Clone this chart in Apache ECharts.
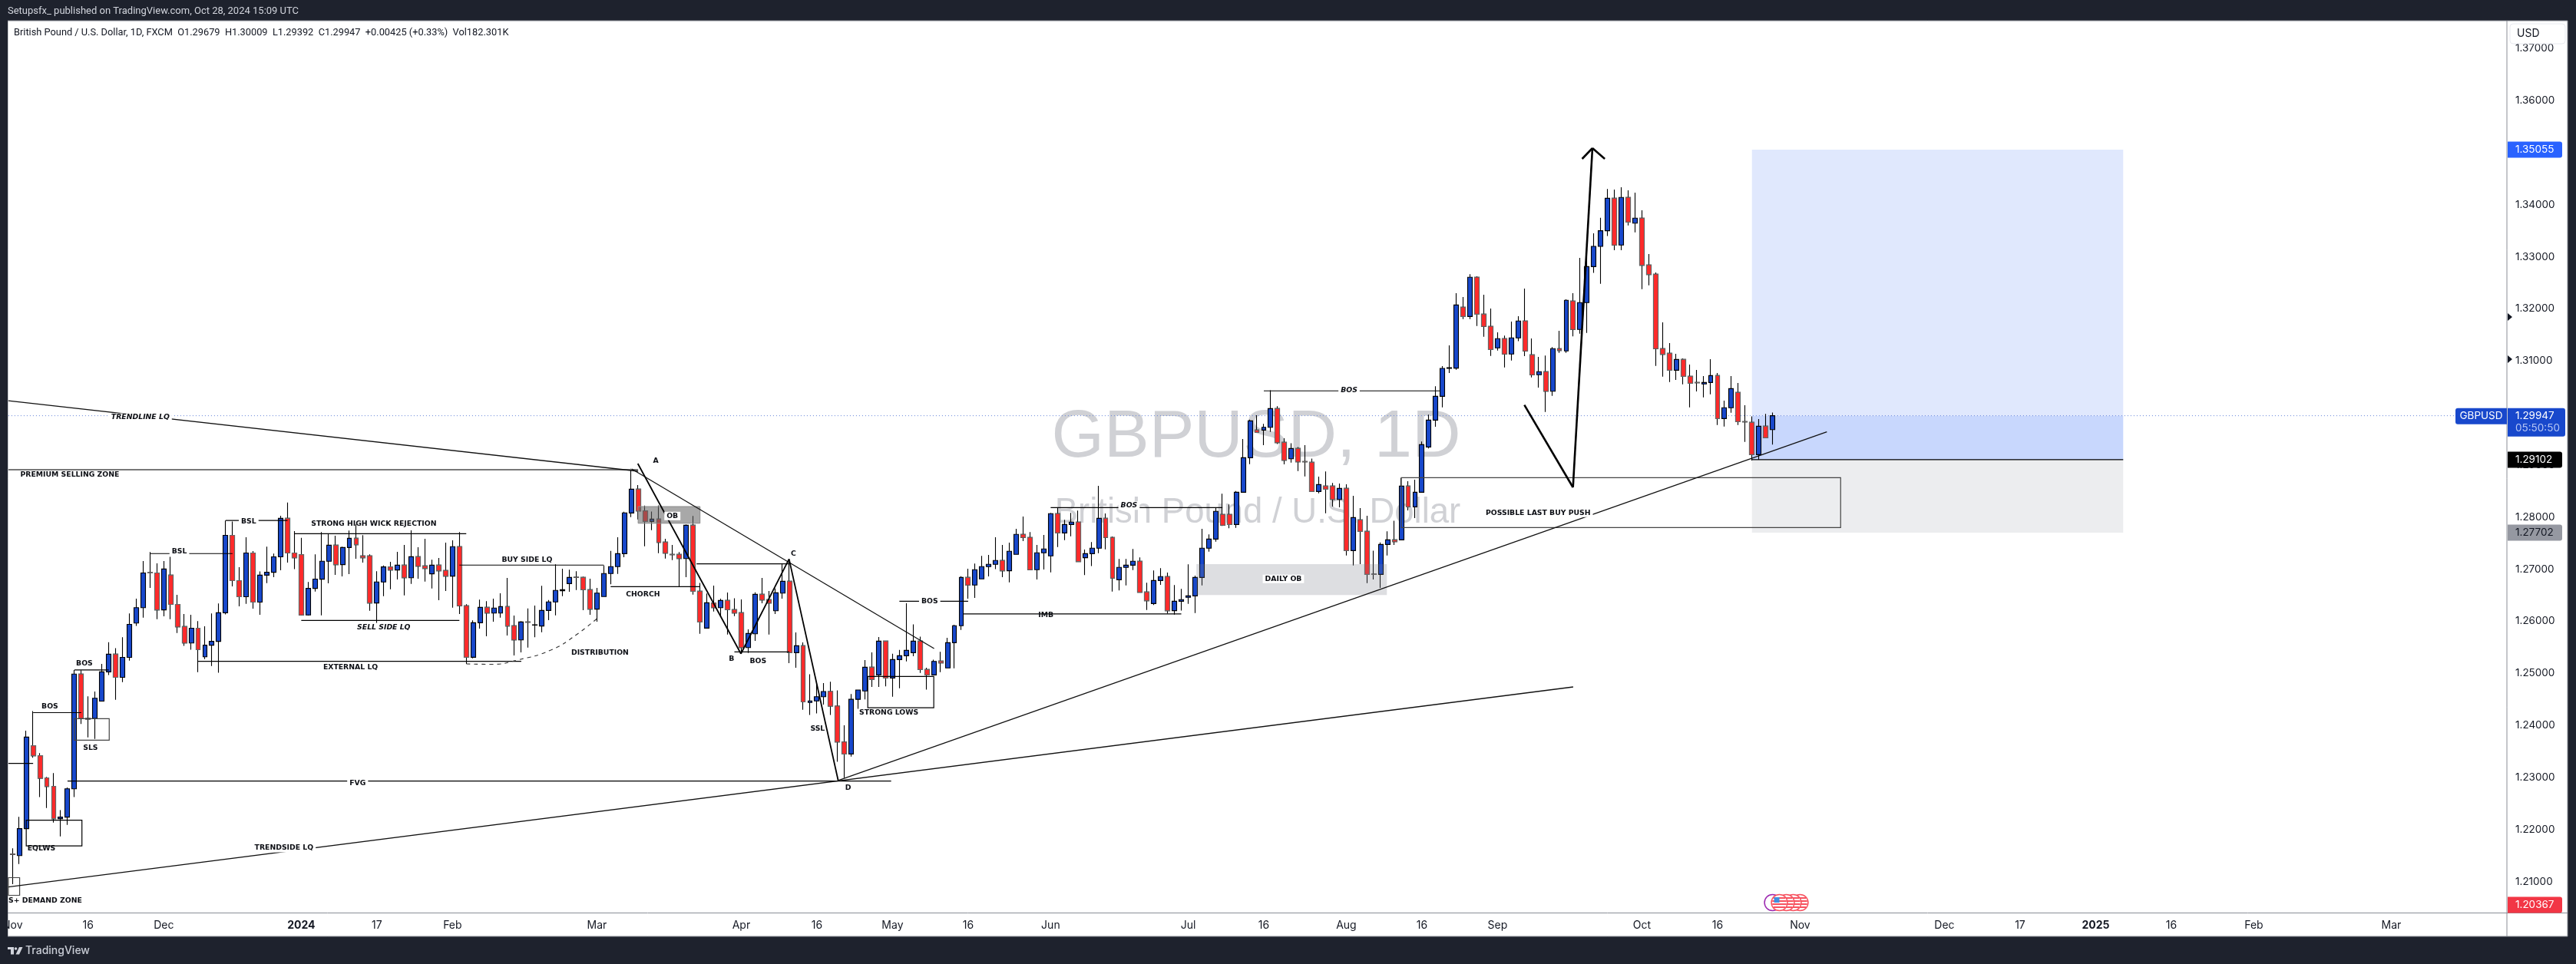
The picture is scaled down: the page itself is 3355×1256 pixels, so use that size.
<!DOCTYPE html>
<html><head><meta charset="utf-8"><style>html,body{margin:0;padding:0;background:#1e222d}#c{width:3355px;height:1256px}</style>
<script src="https://cdn.jsdelivr.net/npm/echarts@6/dist/echarts.min.js"></script></head>
<body><div id="c"></div>
<script>
const opens=[
1.21530,1.21498,1.22016,1.23608,1.23417,1.22991,1.22830,1.22208,1.22238,1.22781,
1.24984,1.24132,1.24132,1.24466,1.25027,1.25367,1.24922,1.25305,1.25965,1.26261,
1.26935,1.26928,1.26218,1.26884,1.26323,1.25897,1.25582,1.25866,1.25317,1.25539,
1.25613,1.26162,1.27649,1.26779,1.26471,1.27310,1.26366,1.26884,1.26940,1.27236,
1.27976,1.27310,1.27279,1.26119,1.26631,1.26807,1.27151,1.27460,1.27087,1.27416,
1.27593,1.27254,1.27254,1.26350,1.26753,1.27043,1.26984,1.27077,1.26836,1.27239,
1.27062,1.26910,1.27077,1.26974,1.26866,1.27431,1.26296,1.25308,1.25971,1.26266,
1.26158,1.26158,1.26281,1.25913,1.25642,1.25986,1.25927,1.25908,1.26207,1.26370,
1.26586,1.26723,1.26845,1.26841,1.26605,1.26232,1.26473,1.26915,1.27048,1.27298,
1.28079,1.28536,1.28118,1.27917,1.27961,1.27519,1.27283,1.27283,1.27204,1.27843,
1.26575,1.25868,1.26349,1.26261,1.26398,1.26221,1.26162,1.25494,1.25759,1.26516,
1.26413,1.26202,1.26541,1.26767,1.25396,1.25528,1.24440,1.24470,1.24550,1.24650,
1.24370,1.23680,1.23450,1.24500,1.24660,1.25116,1.24968,1.25617,1.24909,1.25263,
1.25337,1.25396,1.25617,1.25071,1.24969,1.25234,1.25102,1.25588,1.25913,1.26841,
1.26694,1.26812,1.27048,1.27092,1.27166,1.26969,1.27284,1.27667,1.27608,1.26989,
1.27313,1.27254,1.28065,1.27696,1.27858,1.27903,1.27220,1.27298,1.27402,1.27976,
1.27608,1.26797,1.27033,1.27077,1.27151,1.26561,1.26340,1.26782,1.26856,1.26203,
1.26384,1.26458,1.26487,1.26841,1.27402,1.27578,1.28050,1.28050,1.27858,1.28477,
1.29140,1.29671,1.29671,1.29725,1.30084,1.29435,1.29120,1.29317,1.29066,1.29052,
1.28491,1.28595,1.28595,1.28339,1.28550,1.27356,1.27946,1.27725,1.26904,1.26899,
1.27474,1.27563,1.27563,1.28595,1.28197,1.28477,1.29346,1.29862,1.30319,1.30856,
1.30861,1.32030,1.31853,1.32605,1.31897,1.31662,1.31249,1.31426,1.31131,1.31441,
1.31765,1.31116,1.30733,1.30792,1.30418,1.31234,1.31190,1.32148,1.31603,1.32119,
1.32811,1.33200,1.33500,1.34123,1.33224,1.34138,1.33646,1.33740,1.32841,1.32664,
1.31234,1.31145,1.30821,1.31027,1.30703,1.30585,1.30556,1.30585,1.30718,1.29892,
1.30099,1.30393,1.29833,1.29818,1.29199,1.29745,1.29679];
const closes=[
1.21523,1.22016,1.23775,1.23417,1.22985,1.22825,1.22208,1.22238,1.22781,1.24984,
1.24132,1.24120,1.24521,1.25027,1.25367,1.24922,1.25305,1.25940,1.26261,1.26928,
1.26928,1.26218,1.27002,1.26323,1.25891,1.25582,1.25866,1.25453,1.25539,1.25613,
1.26162,1.27649,1.26779,1.26471,1.27310,1.26366,1.26884,1.26940,1.27236,1.27976,
1.27310,1.27218,1.26119,1.26631,1.26810,1.27151,1.27460,1.27087,1.27416,1.27593,
1.27470,1.27220,1.26350,1.26753,1.27043,1.26984,1.27077,1.26836,1.27239,1.27057,
1.27013,1.27077,1.26969,1.26866,1.27431,1.26296,1.25308,1.25971,1.26266,1.26158,
1.26252,1.26281,1.25908,1.25642,1.25986,1.25981,1.25932,1.26207,1.26370,1.26591,
1.26605,1.26841,1.26841,1.26605,1.26232,1.26541,1.26915,1.27048,1.27298,1.28080,
1.28536,1.28118,1.27917,1.27961,1.27514,1.27307,1.27278,1.27204,1.27843,1.26575,
1.25985,1.26354,1.26261,1.26398,1.26221,1.26157,1.25494,1.25764,1.26516,1.26408,
1.26349,1.26546,1.26767,1.25396,1.25529,1.24450,1.24470,1.24550,1.24650,1.24370,
1.23680,1.23450,1.24500,1.24680,1.25116,1.24880,1.25617,1.24909,1.25263,1.25337,
1.25440,1.25617,1.25071,1.24968,1.25229,1.25200,1.25588,1.25913,1.26841,1.26694,
1.26989,1.27048,1.27092,1.27166,1.26969,1.27343,1.27667,1.27608,1.26989,1.27313,
1.27387,1.28065,1.27696,1.27858,1.27903,1.27146,1.27298,1.27402,1.27976,1.27608,
1.26827,1.27033,1.27077,1.27151,1.26556,1.26394,1.26782,1.26856,1.26203,1.26384,
1.26414,1.26487,1.26841,1.27402,1.27578,1.28109,1.27844,1.27858,1.28477,1.29140,
1.29848,1.29626,1.29725,1.30084,1.29430,1.29091,1.29317,1.29061,1.29061,1.28491,
1.28624,1.28536,1.28339,1.28550,1.27356,1.27990,1.27725,1.26899,1.26899,1.27474,
1.27563,1.27528,1.28595,1.28197,1.28477,1.29391,1.29862,1.30319,1.30856,1.30871,
1.32074,1.31853,1.32605,1.31897,1.31662,1.31219,1.31426,1.31131,1.31441,1.31765,
1.31190,1.30733,1.30792,1.30418,1.31234,1.31200,1.32163,1.31603,1.32119,1.32811,
1.33200,1.33500,1.34123,1.33224,1.34138,1.33666,1.33740,1.32836,1.32659,1.31234,
1.31126,1.30821,1.31027,1.30703,1.30570,1.30580,1.30585,1.30718,1.29892,1.30099,
1.30467,1.29833,1.29828,1.29199,1.29745,1.29524,1.29947];
const lows=[
1.20950,1.21338,1.22016,1.23380,1.22621,1.22411,1.22133,1.21868,1.22090,1.22621,
1.24028,1.23768,1.23738,1.24466,1.24965,1.24490,1.24830,1.25243,1.25910,1.26070,
1.26638,1.26039,1.26095,1.26039,1.25774,1.25527,1.25453,1.25021,1.25274,1.25138,
1.25009,1.26131,1.26668,1.26286,1.26335,1.26243,1.26125,1.26730,1.26847,1.26977,
1.27125,1.27002,1.26110,1.26110,1.26570,1.26114,1.26728,1.26890,1.26861,1.26905,
1.27200,1.27126,1.26202,1.25967,1.26483,1.26615,1.26802,1.26497,1.26718,1.26817,
1.26763,1.26630,1.26404,1.26581,1.26261,1.26139,1.25180,1.25288,1.25858,1.25711,
1.25991,1.26070,1.25726,1.25342,1.25401,1.25495,1.25691,1.25790,1.26021,1.26114,
1.26483,1.26566,1.26600,1.26212,1.26124,1.25991,1.26473,1.26709,1.26910,1.27230,
1.28000,1.27956,1.27440,1.27750,1.27307,1.27204,1.27175,1.26663,1.26845,1.26511,
1.25759,1.25868,1.26187,1.26089,1.25745,1.26098,1.25401,1.25391,1.25622,1.26344,
1.25745,1.26138,1.26433,1.25194,1.25106,1.24300,1.24200,1.24230,1.24400,1.24200,
1.23300,1.22990,1.23400,1.24200,1.24500,1.24737,1.24737,1.24750,1.24550,1.24713,
1.25229,1.25327,1.25008,1.24688,1.24960,1.25023,1.25102,1.25097,1.25834,1.26433,
1.26448,1.26812,1.26861,1.26999,1.26846,1.26748,1.27284,1.27539,1.26989,1.26802,
1.26994,1.26940,1.27426,1.27559,1.27632,1.27146,1.26886,1.27058,1.27308,1.27382,
1.26571,1.26591,1.26689,1.26984,1.26556,1.26217,1.26311,1.26699,1.26148,1.26129,
1.26203,1.26335,1.26158,1.26689,1.27338,1.27529,1.27829,1.27785,1.27794,1.28477,
1.29017,1.29617,1.29381,1.29636,1.29405,1.29012,1.29047,1.28884,1.28781,1.28491,
1.28457,1.28074,1.28201,1.28187,1.27263,1.27071,1.27096,1.26732,1.26801,1.26639,
1.27263,1.27464,1.27563,1.28128,1.27980,1.28477,1.29317,1.29735,1.30108,1.30767,
1.30831,1.31804,1.31804,1.31671,1.31465,1.31096,1.31200,1.30875,1.31008,1.31377,
1.31091,1.30684,1.30487,1.30020,1.30330,1.31155,1.31155,1.31470,1.31524,1.31539,
1.32689,1.32482,1.33400,1.33126,1.33126,1.33602,1.33470,1.32379,1.32452,1.30905,
1.30698,1.30595,1.30634,1.30551,1.30108,1.30413,1.30300,1.30359,1.29769,1.29740,
1.30005,1.29769,1.29445,1.29086,1.29101,1.29524,1.29392];
const highs=[
1.21640,1.22245,1.23898,1.24274,1.23466,1.23009,1.23083,1.22374,1.22806,1.25064,
1.25060,1.24558,1.24651,1.25181,1.25595,1.25484,1.25694,1.26150,1.26434,1.27156,
1.27328,1.27113,1.27156,1.27236,1.26508,1.26138,1.26125,1.26002,1.25903,1.26150,
1.26341,1.27933,1.27915,1.27039,1.27612,1.27347,1.26958,1.27433,1.27298,1.28026,
1.28279,1.27730,1.27600,1.26755,1.27285,1.27711,1.27677,1.27642,1.27431,1.27741,
1.27858,1.27652,1.27284,1.26959,1.27072,1.27141,1.27333,1.27465,1.27745,1.27421,
1.27583,1.27180,1.27215,1.27510,1.27554,1.27711,1.26325,1.26016,1.26414,1.26384,
1.26433,1.26537,1.26831,1.26109,1.26001,1.26247,1.26301,1.26679,1.26409,1.27092,
1.27008,1.26989,1.26959,1.26856,1.26817,1.26640,1.27072,1.27352,1.27613,1.28104,
1.28929,1.28614,1.28221,1.28108,1.28226,1.27582,1.27465,1.27327,1.27858,1.28020,
1.26737,1.26531,1.26683,1.26433,1.26551,1.26442,1.26418,1.25843,1.26555,1.26831,
1.26580,1.26629,1.27106,1.27145,1.25784,1.25592,1.24983,1.24800,1.24811,1.24836,
1.24673,1.24000,1.24600,1.24688,1.25253,1.25401,1.25696,1.25627,1.25376,1.25450,
1.26344,1.25941,1.25705,1.25106,1.25263,1.25411,1.25682,1.25932,1.26866,1.27008,
1.27107,1.27254,1.27274,1.27613,1.27465,1.27510,1.27775,1.28011,1.27711,1.27465,
1.27657,1.28080,1.28183,1.27947,1.28080,1.28124,1.27377,1.27519,1.28601,1.28070,
1.27628,1.27195,1.27195,1.27387,1.27225,1.26738,1.26974,1.27018,1.26935,1.26694,
1.26620,1.27092,1.26876,1.27775,1.27667,1.28183,1.28448,1.28242,1.28500,1.29499,
1.29872,1.29956,1.29789,1.30437,1.30128,1.29513,1.29420,1.29346,1.29381,1.29125,
1.28776,1.28875,1.28654,1.28644,1.28629,1.28408,1.28172,1.28025,1.27356,1.27513,
1.27725,1.27931,1.28752,1.28688,1.28717,1.29450,1.29966,1.30511,1.30900,1.31298,
1.32300,1.32227,1.32664,1.32625,1.32271,1.32006,1.31549,1.31485,1.31755,1.31858,
1.32389,1.31431,1.31077,1.31101,1.31264,1.31578,1.32182,1.32300,1.32979,1.33000,
1.33450,1.33750,1.34300,1.34290,1.34334,1.34275,1.34231,1.33892,1.33052,1.32698,
1.31740,1.31342,1.31135,1.31047,1.30929,1.30826,1.30708,1.31032,1.30767,1.30236,
1.30708,1.30575,1.30147,1.29936,1.29882,1.29981,1.30009];

const tickIndex=[0,11,22,42,53,64,85,106,117,128,139,151,171,182,194,205,216,237,248,260,281,292,303,314,326,346];
const tickText=['Nov','16','Dec','2024','17','Feb','Mar','Apr','16','May','16','Jun','Jul','16','Aug','16','Sep','Oct','16','Nov','Dec','17','2025','16','Feb','Mar'];
const priceTicks=[1.21,1.22,1.23,1.24,1.25,1.26,1.27,1.28,1.29,1.30,1.31,1.32,1.33,1.34,1.35,1.36,1.37];

// drawn annotations: [fromIndex, fromPrice, toIndex, toPrice]
const thinLines=[
[3,1.24244,10,1.24244],[9,1.25065,14,1.25065],[-0.6,1.2327,3,1.2327],[8,1.22931,127.8,1.22931],
[20,1.27299,32,1.27299],[31,1.27934,40,1.27934],[27,1.2523,74,1.2523],[41,1.27682,66,1.27682],
[42,1.26016,65,1.26016],[65,1.27078,86,1.27078],[87,1.26664,100,1.26664],[99.5,1.27101,113,1.27101],
[105,1.25412,113,1.25412],[129,1.26385,139,1.26385],[138.3,1.26139,170,1.26139],[151,1.28183,176,1.28183],
[182,1.30424,207.6,1.30424],[253,1.29102,307,1.29102]];
const trendLines=[
[-0.6,1.30236,91,1.2888],[90.06,1.28925,134.05,1.25475],[120.1,1.2294,263.9,1.29636],[-0.6,1.20897,227,1.24738]];
const greyLines=[[-0.6,1.2891,91,1.2891]];
const abcdLines=[
[90.95,1.29028,105.95,1.25376],[105.95,1.25376,112.95,1.27195],[112.95,1.27195,120.1,1.2294]];
const pathLines=[
[219.9,1.30153,226.97,1.28571],[226.97,1.28571,229.8,1.35086],[228.3,1.3488,229.8,1.35086],[229.8,1.35086,231.6,1.3488]];
const lastPriceLine=[[-0.6,1.29947,362.8,1.29947]];
const distributionPath=[[66.02,1.2518],[69.74,1.25173],[73.42,1.25254],[78.3,1.25446],[82.02,1.25741],[85.37,1.26094]];
// rectangles: [leftIndex, topPrice, rightIndex, bottomPrice]
const blackBoxes=[[2,1.2218,10.1,1.21684],[124.4,1.2494,134,1.24339]];
const greyBoxes=[[9,1.24128,14.07,1.23715],[-0.6,1.21075,1.04,1.20736],[202,1.28758,265.9,1.278]];
const orderBlockDark=[[91,1.28202,100,1.27881]];
const orderBlockLight=[[172.2,1.27097,199.9,1.26503]];
const targetZone=[[253,1.35055,307,1.29947]];
const openProfitZone=[[253,1.29947,307,1.29102]];
const stopZone=[[253,1.29102,307,1.27702]];
// text annotations: [text, index, price]
const plainLabels=[
['S+ DEMAND ZONE',4.76,1.20637],['EQLWS',4.2,1.21628],['SLS',11.35,1.23559],['BOS',5.43,1.24355],['BOS',10.46,1.25189],
['STRONG HIGH WICK REJECTION',52.55,1.27874],['EXTERNAL LQ',49.17,1.25117],['BUY SIDE LQ',74.84,1.27181],
['DISTRIBUTION',85.45,1.25391],['CHORCH',91.7,1.26517],['A',93.56,1.29079],['B',104.6,1.25269],['C',113.6,1.27293],
['D',121.55,1.22792],['BOS',108.45,1.25229],['SSL',117.1,1.23928],['IMB',150.3,1.26113]];
const boxedLabels=[
['PREMIUM SELLING ZONE',8.34,1.28815],['TRENDSIDE LQ',39.49,1.21643],['BSL',24.27,1.27333],['BSL',34.35,1.27907],
['OB',95.98,1.28021],['STRONG LOWS',127.46,1.24237],['FVG',50.2,1.22881],['BOS',133.4,1.26385],
['DAILY OB',184.85,1.26812],['POSSIBLE LAST BUY PUSH',221.9,1.2808]];
const italicLabels=[['TRENDLINE LQ',18.6,1.29912],['SELL SIDE LQ',54,1.25883],['BOS',162.4,1.28221],['BOS',194.4,1.30433]];
const eventIndex=[256,260,259,258,257];
const eventPrice=[1.20596];
const priceTagValues=[1.35055,1.29102,1.27702,1.20367];
const axisMarkers=[1.31843,1.31032];
const lastPrice=[1.29947];
const countdown='05:50:50';

const SLOT=8.957, SLOTS=364, LEFT=10.85, PANEL_RIGHT=3265;
const categories=new Array(SLOTS).fill('');
tickIndex.forEach((k,i)=>{categories[k]=tickText[i];});
const candles=opens.map((o,i)=>[o,closes[i],lows[i],highs[i]]);
const downBodies=opens.map((o,i)=>o>closes[i]?[o,closes[i],closes[i],o]:'-');

function segSeries(name,rows,color,width,z,dash){
  return {name,type:'custom',xAxisIndex:1,yAxisIndex:0,z,silent:true,data:rows,encode:{x:[0,2],y:[1,3]},
    renderItem:(p,api)=>{const a=api.coord([api.value(0),api.value(1)]),b=api.coord([api.value(2),api.value(3)]);
      return {type:'line',shape:{x1:a[0],y1:a[1],x2:b[0],y2:b[1]},style:{stroke:color,lineWidth:width,lineDash:dash||null}};}};
}
function boxSeries(name,rows,fill,stroke,width,z){
  return {name,type:'custom',xAxisIndex:1,yAxisIndex:0,z,silent:true,data:rows,encode:{x:[0,2],y:[1,3]},
    renderItem:(p,api)=>{const a=api.coord([api.value(0),api.value(1)]),b=api.coord([api.value(2),api.value(3)]);
      return {type:'rect',shape:{x:a[0],y:a[1],width:b[0]-a[0],height:b[1]-a[1]},style:{fill:fill,stroke:stroke,lineWidth:width}};}};
}
function labelSeries(name,rows,font,bg){
  return {name,type:'custom',xAxisIndex:1,yAxisIndex:0,z:6,silent:true,data:rows.map(r=>[r[1],r[2]]),
    renderItem:(p,api)=>{const a=api.coord([api.value(0),api.value(1)]);
      return {type:'text',style:{text:rows[p.dataIndex][0],x:a[0],y:a[1],align:'center',verticalAlign:'middle',font:font,fill:'#0c0e14',
        backgroundColor:bg?'#fff':null,padding:bg?[1,3,1,3]:0}};}};
}
const AXF='Inter';
const tagColors=['#2962ff','#000000','#9598a1','#f23645'];
const tagText=['#ffffff','#ffffff','#131722','#ffffff'];

const option={
  animation:false,backgroundColor:'#1e222d',
  grid:{left:LEFT,top:27,width:SLOT*SLOTS,height:1162.5,containLabel:false},
  xAxis:[
    {type:'category',data:categories,boundaryGap:true,axisLine:{show:false},axisTick:{show:false},splitLine:{show:false},
     axisLabel:{interval:0,margin:9,color:'#131722',fontFamily:AXF,fontSize:14,hideOverlap:false,
       formatter:v=>(v==='2024'||v==='2025')?'{b|'+v+'}':v,rich:{b:{fontWeight:'bold',fontFamily:AXF,fontSize:14,color:'#131722'}}}},
    {type:'value',min:-0.5,max:SLOTS-0.5,show:false}],
  yAxis:{type:'value',position:'right',offset:PANEL_RIGHT-(LEFT+SLOT*SLOTS),min:1.20397,max:1.37533,scale:true,
    axisLine:{show:false},axisTick:{show:false},splitLine:{show:false},
    axisLabel:{customValues:priceTicks,margin:11,color:'#131722',fontFamily:AXF,fontSize:13.5,formatter:v=>v.toFixed(5)}},
  graphic:{elements:[
    {type:'rect',z:-10,shape:{x:10,y:27,width:3334,height:1193},style:{fill:'#fff',stroke:'#8a8e96',lineWidth:1}},
    {type:'text',z:-9,style:{text:'GBPUSD, 1D',x:1636,y:571,align:'center',verticalAlign:'middle',font:'88px "Liberation Sans"',fill:'#d0d1d5'}},
    {type:'text',z:-9,style:{text:'British Pound / U.S. Dollar',x:1638,y:668,align:'center',verticalAlign:'middle',font:'45.5px "Liberation Sans"',fill:'#d0d1d5'}},
    {type:'text',z:8,style:{text:'British Pound / U.S. Dollar, 1D, FXCM  O1.29679  H1.30009  L1.29392  C1.29947  +0.00425 (+0.33%)  Vol182.301K',x:18,y:43,align:'left',verticalAlign:'middle',font:'12.8px Roboto',fill:'#131722'}},
    {type:'text',z:8,style:{text:'Setupsfx_ published on TradingView.com, Oct 28, 2024 15:09 UTC',x:10,y:15,align:'left',verticalAlign:'middle',font:'13px Roboto',fill:'#d1d4dc'}},
    {type:'line',z:1,shape:{x1:10,y1:1189.5,x2:3344,y2:1189.5},style:{stroke:'#8a8e96',lineWidth:1}},
    {type:'line',z:1,shape:{x1:3265,y1:27,x2:3265,y2:1220},style:{stroke:'#8a8e96',lineWidth:1}},
    {type:'rect',z:50,shape:{x:0,y:0,width:10,height:1256},style:{fill:'#1e222d'}},
    {type:'rect',z:50,shape:{x:3269,y:31,width:72,height:26,r:4},style:{fill:'#fff',stroke:'#e8eaf0',lineWidth:1}},
    {type:'text',z:51,style:{text:'USD',x:3278,y:44,align:'left',verticalAlign:'middle',font:'14px Inter',fill:'#131722'}},
    {type:'rect',z:51,shape:{x:10,y:1234,width:8,height:3},style:{fill:'#d1d4dc'}},
    {type:'rect',z:51,shape:{x:14,y:1234,width:4,height:9.5},style:{fill:'#d1d4dc'}},
    {type:'circle',z:51,shape:{cx:20.5,cy:1236,r:1.8},style:{fill:'#d1d4dc'}},
    {type:'polygon',z:51,shape:{points:[[25,1234],[29.5,1234],[25,1243.5],[20.5,1243.5]]},style:{fill:'#d1d4dc'}},
    {type:'text',z:51,style:{text:'TradingView',x:33,y:1239,align:'left',verticalAlign:'middle',font:'500 14px Inter',fill:'#c9cdd6'}}
  ]},
  series:[
    boxSeries('target',targetZone,'#e0e8fd',null,0,1),
    boxSeries('profit',openProfitZone,'#c8d7fd',null,0,1),
    boxSeries('stop',stopZone,'#ecedef',null,0,1),
    {name:'GBPUSD',type:'candlestick',xAxisIndex:0,yAxisIndex:0,z:2,silent:true,barWidth:6.4,data:candles,
     itemStyle:{color:'#1848cc',color0:'#ff2a2a',borderColor:'#000',borderColor0:'#000',borderWidth:1.1}},
    {name:'downBodies',type:'candlestick',xAxisIndex:0,yAxisIndex:0,z:2.5,silent:true,barWidth:6.4,data:downBodies,
     itemStyle:{color:'#1848cc',color0:'#ff2a2a',borderColor:'#666',borderColor0:'#666',borderWidth:1.1}},
    boxSeries('obDark',orderBlockDark,'rgba(100,100,100,0.56)','#8a8a8a',1,3),
    boxSeries('obLight',orderBlockLight,'rgba(120,123,134,0.25)',null,0,3),
    boxSeries('blackBoxes',blackBoxes,null,'#000',1.2,4),
    boxSeries('greyBoxes',greyBoxes,null,'#444',1.2,4),
    segSeries('lastPrice',lastPriceLine,'#5f7fd8',1,1.5,[1,3]),
    segSeries('thin',thinLines,'#000',1.2,4),
    segSeries('grey',greyLines,'#777',1.8,3),
    segSeries('trend',trendLines,'#111',1.3,4),
    segSeries('abcd',abcdLines,'#000',1.8,4),
    segSeries('path',pathLines,'#000',2.6,4),
    {name:'distribution',type:'line',xAxisIndex:1,yAxisIndex:0,z:4,silent:true,smooth:true,symbol:'none',data:distributionPath,
     lineStyle:{color:'#333',width:1.1,type:[5,5]}},
    labelSeries('plain',plainLabels,'bold 9.3px "DejaVu Sans"',false),
    labelSeries('boxed',boxedLabels,'bold 9.3px "DejaVu Sans"',true),
    labelSeries('italic',italicLabels,'italic bold 9.3px "DejaVu Sans"',true),
    {name:'events',type:'custom',xAxisIndex:1,yAxisIndex:0,z:5,silent:true,data:eventIndex.map(i=>[i,eventPrice[0]]),
     renderItem:(p,api)=>{const c=api.coord([api.value(0),api.value(1)]),purple=p.dataIndex===0,R=10.5;
       const kids=[{type:'circle',shape:{cx:c[0],cy:c[1],r:R},style:{fill:'#fff',stroke:purple?'#9c27b0':'#f7525f',lineWidth:1.5}}];
       if(!purple){[-6,-2,2,6].forEach(d=>{const h=Math.sqrt(R*R-d*d)-1;kids.push({type:'line',shape:{x1:c[0]-h,y1:c[1]+d,x2:c[0]+h,y2:c[1]+d},style:{stroke:'#f7525f',lineWidth:2}});});
         kids.push({type:'rect',shape:{x:c[0]-7,y:c[1]-7,width:7,height:7},style:{fill:'#3f8fe0'}});}
       return {type:'group',children:kids};}},
    {name:'priceTags',type:'custom',xAxisIndex:0,yAxisIndex:0,z:10,silent:true,data:priceTagValues.map(v=>[0,v]),
     renderItem:(p,api)=>{const y=Math.min(api.coord([0,api.value(1)])[1],1179);
       return {type:'group',children:[
         {type:'rect',shape:{x:3266,y:y-10.5,width:71,height:21,r:[0,3,3,0]},style:{fill:tagColors[p.dataIndex]}},
         {type:'text',style:{text:api.value(1).toFixed(5),x:3276,y:y,align:'left',verticalAlign:'middle',font:'13.5px Inter',fill:tagText[p.dataIndex]}}]};}},
    {name:'lastTag',type:'custom',xAxisIndex:0,yAxisIndex:0,z:10,silent:true,data:lastPrice.map(v=>[0,v]),
     renderItem:(p,api)=>{const y=api.coord([0,api.value(1)])[1];
       return {type:'group',children:[
         {type:'rect',shape:{x:3198,y:y-10,width:67,height:21,r:[3,0,0,3]},style:{fill:'#1848cc'}},
         {type:'text',style:{text:'GBPUSD',x:3231.5,y:y+0.5,align:'center',verticalAlign:'middle',font:'13.5px Inter',fill:'#fff'}},
         {type:'rect',shape:{x:3266,y:y-10,width:75,height:37,r:[0,3,3,0]},style:{fill:'#1848cc'}},
         {type:'text',style:{text:api.value(1).toFixed(5),x:3276,y:y,align:'left',verticalAlign:'middle',font:'13.5px Inter',fill:'#fff'}},
         {type:'text',style:{text:countdown,x:3276,y:y+16,align:'left',verticalAlign:'middle',font:'13.5px Inter',fill:'#b7c7f5'}}]};}},
    {name:'axisMarkers',type:'custom',xAxisIndex:0,yAxisIndex:0,z:10,silent:true,data:axisMarkers.map(v=>[0,v]),
     renderItem:(p,api)=>{const y=api.coord([0,api.value(1)])[1];
       return {type:'polygon',shape:{points:[[3266,y-5],[3272,y],[3266,y+5]]},style:{fill:'#131722'}};}}
  ]
};
echarts.init(document.getElementById('c'),null,{renderer:'canvas'}).setOption(option);
</script></body></html>
